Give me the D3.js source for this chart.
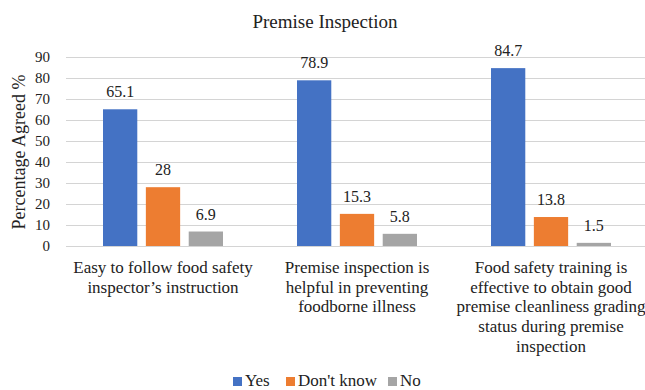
<!DOCTYPE html>
<html><head><meta charset="utf-8">
<script src="https://cdn.jsdelivr.net/npm/d3@7"></script>
<style>body{margin:0;background:#fff}svg text{font-family:"Liberation Serif","Times New Roman",serif;fill:#222}</style>
</head><body><svg id="c" width="645" height="390" font-family="Liberation Serif, serif"></svg>
<script>
const categories = [
  ["Easy to follow  food safety", "inspector\u2019s instruction"],
  ["Premise inspection is", "helpful in preventing", "foodborne illness"],
  ["Food safety training is", "effective to obtain good", "premise cleanliness grading", "status during premise", "inspection"]
];
const seriesNames = ["Yes", "Don't know", "No"];
const yesValues = [65.1, 78.9, 84.7];
const dontKnowValues = [28, 15.3, 13.8];
const noValues = [6.9, 5.8, 1.5];
const yTicks = [0,10,20,30,40,50,60,70,80,90];
const colors = ["#4472C4", "#ED7D31", "#A5A5A5"];

const series = [yesValues, dontKnowValues, noValues];
const svg = d3.select("#c");
const x0 = d3.scaleBand().domain(d3.range(categories.length)).range([66, 648]);
const x1 = d3.scaleBand().domain(d3.range(3)).range([0, 120]).paddingInner(0.2);
const y = d3.scaleLinear().domain([0, 90]).range([246, 57]);

svg.append("text").attr("x", 325).attr("y", 28).attr("text-anchor", "middle")
  .style("font-size", "19px").text("Premise Inspection");

// gridlines
svg.append("g").selectAll("line").data(yTicks).join("line")
  .attr("x1", 66).attr("x2", 645).attr("y1", d => y(d) + 0.5).attr("y2", d => y(d) + 0.5)
  .attr("stroke", "#d4d4d4").attr("stroke-width", 1.2);

const yAxis = svg.append("g").attr("transform", "translate(66,0)")
  .call(d3.axisLeft(y).tickValues(yTicks).tickSize(0).tickPadding(16));
yAxis.attr("font-family", "Liberation Serif, serif");
yAxis.select(".domain").remove();
yAxis.selectAll("text").style("font-size", "15px").attr("fill", "#222");

svg.append("text").attr("transform", "translate(25,152) rotate(-90)").attr("text-anchor", "middle")
  .style("font-size", "18px").text("Percentage Agreed %");

const g = svg.append("g").selectAll("g").data(categories).join("g")
  .attr("transform", (d, i) => `translate(${x0(i) + (x0.bandwidth() - 120) / 2},0)`);

g.each(function(cat, ci) {
  const gg = d3.select(this);
  series.forEach((vals, si) => {
    const v = vals[ci];
    gg.append("rect").attr("x", x1(si)).attr("width", x1.bandwidth())
      .attr("y", y(v)).attr("height", y(0) - y(v)).attr("fill", colors[si]);
    gg.append("text").attr("x", x1(si) + x1.bandwidth() / 2).attr("y", y(v) - 12)
      .attr("text-anchor", "middle").style("font-size", "16px").text(v);
  });
  const t = gg.append("text").attr("text-anchor", "middle").style("font-size", "17px");
  cat.forEach((line, li) => {
    t.append("tspan").attr("x", 60).attr("y", 273 + li * 19.7).text(line);
  });
});

// legend
const legendX = [233, 286, 388];
const lg = svg.append("g");
seriesNames.forEach((n, i) => {
  lg.append("rect").attr("x", legendX[i]).attr("y", 377).attr("width", 9).attr("height", 9).attr("fill", colors[i]);
  lg.append("text").attr("x", legendX[i] + 12).attr("y", 386).style("font-size", "17px").text(n);
});
</script></body></html>
